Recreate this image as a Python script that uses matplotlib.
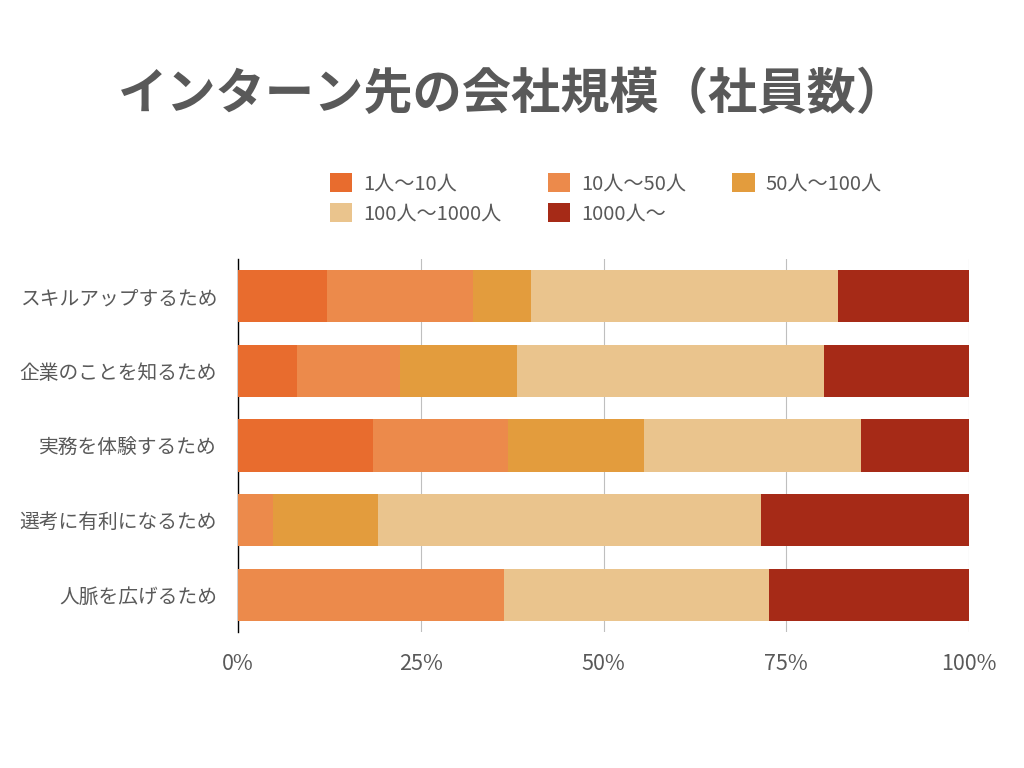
import matplotlib.pyplot as plt
import numpy as np

plt.rcParams['font.family'] = ['Noto Sans CJK JP', 'DejaVu Sans']

# 理由ごとの会社規模の割合（%）
reasons = ["スキルアップするため", "企業のことを知るため", "実務を体験するため",
           "選考に有利になるため", "人脈を広げるため"]
sizes = ["1人〜10人", "10人〜50人", "50人〜100人", "100人〜1000人", "1000人〜"]
s_1_10 = [12.2, 8.1, 18.5, 0.0, 0.0]
s_10_50 = [19.9, 14.1, 18.5, 4.8, 36.4]
s_50_100 = [8.0, 16.0, 18.5, 14.3, 0.0]
s_100_1000 = [42.0, 42.0, 29.7, 52.4, 36.3]
s_1000 = [17.9, 19.8, 14.8, 28.5, 27.3]
colors = ["#E86C2E", "#EC8A4B", "#E39C3D", "#EAC48D", "#A62A17"]

series = [s_1_10, s_10_50, s_50_100, s_100_1000, s_1000]

fig = plt.figure(figsize=(10.24, 7.68), dpi=100)
ax = fig.add_axes([238 / 1024, 1 - 632 / 768, 731 / 1024, 373 / 768])

y = np.arange(len(reasons))
left = np.zeros(len(reasons))
handles = []
for vals, lab, c in zip(series, sizes, colors):
    b = ax.barh(y, vals, left=left, height=0.7, color=c, label=lab, zorder=3)
    handles.append(b)
    left += np.array(vals)

ax.set_xlim(0, 100)
ax.set_ylim(len(reasons) - 0.5, -0.5)
ax.set_yticks(y)
ax.set_yticklabels(reasons)
ax.set_xticks([0, 25, 50, 75, 100])
ax.set_xticklabels(["0%", "25%", "50%", "75%", "100%"])
ax.tick_params(axis="both", length=0, labelcolor="#595959")
ax.tick_params(axis="x", pad=15, labelsize=15.5)
ax.tick_params(axis="y", pad=15, labelsize=14.2)
ax.grid(axis="x", color="#BFBFBF", linewidth=0.8, zorder=0)
for s in ["top", "right", "bottom"]:
    ax.spines[s].set_visible(False)
ax.spines["left"].set_color("black")
ax.spines["left"].set_linewidth(1)

fig.text(512 / 1024, 1 - 94 / 768, "インターン先の会社規模（社員数）", ha="center", va="center",
         fontsize=35.5, fontweight="bold", color="#595959")

order = [0, 3, 1, 4, 2]
fig.legend([handles[i] for i in order], [sizes[i] for i in order],
           ncol=3, loc="upper left", bbox_to_anchor=(330 / 1024, 1 - 173 / 768),
           frameon=False, fontsize=14.5, labelcolor="#595959", borderpad=0,
           borderaxespad=0, handlelength=1.1, handleheight=1.1, handletextpad=0.55,
           columnspacing=2.3, labelspacing=0.4)

fig.savefig("out.png", dpi=100)
